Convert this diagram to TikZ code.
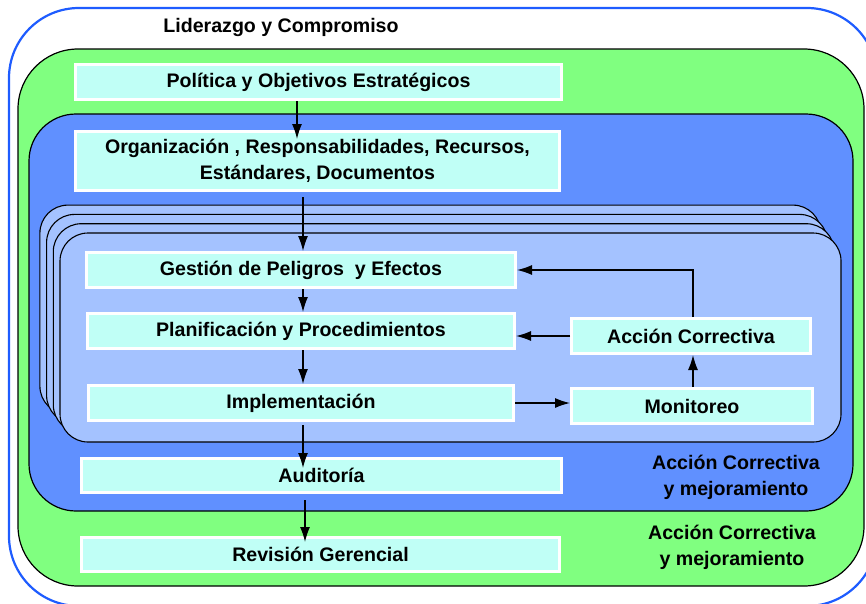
\documentclass[tikz,border=0pt]{standalone}
\usepackage{fontspec}
\setmainfont{Liberation Sans}
\usetikzlibrary{arrows.meta}
\definecolor{frameblue}{RGB}{30,92,255}
\definecolor{leafgreen}{RGB}{128,255,128}
\definecolor{midblue}{RGB}{96,144,255}
\definecolor{layerblue}{RGB}{164,194,255}
\definecolor{boxcyan}{RGB}{192,255,246}
\begin{document}
\begin{tikzpicture}[x=1pt,y=-1pt,
  txt/.style={font=\fontsize{19.6}{26}\selectfont\bfseries, align=center},
  cbox/.style={txt, fill=boxcyan, draw=white, line width=3pt, inner sep=0pt},
  arr/.style={line width=1.3pt, -{Latex[length=15pt,width=10pt]}},
  panel/.style={draw=black, line width=1.2pt},
  layer/.style={fill=layerblue, draw=black, line width=1.1pt, rounded corners=28pt}]
\useasboundingbox (0,0) rectangle (866,603);
\clip (0,0) rectangle (866,603);

% nested frames
\draw[frameblue, line width=2.2pt, fill=white, rounded corners=70pt] (9,8) rectangle (877,606);
\draw[panel, fill=leafgreen, rounded corners=60pt] (18,49) rectangle (864,586);
\draw[panel, fill=midblue, rounded corners=47pt] (29,114) rectangle (853,511);

% stacked cycle sheets
\foreach \k in {3,2,1,0}{
  \begin{scope}[shift={(-6.7*\k,-9.3*\k)}]
    \draw[layer] (60,233) rectangle (841,442);
  \end{scope}
}

% process boxes
\node[cbox, minimum width=486pt, minimum height=35pt] (pol) at (318.5,82) {Política y Objetivos Estratégicos};
\node[cbox, minimum width=484pt, minimum height=59pt] (org) at (317.5,161) {Organización , Responsabilidades, Recursos,\\Estándares, Documentos};
\node[cbox, minimum width=429pt, minimum height=35pt] (ges) at (301,270) {Gestión de Peligros\ \ y Efectos};
\node[cbox, minimum width=427pt, minimum height=35pt] (plan) at (301,331) {Planificación y Procedimientos};
\node[cbox, minimum width=425pt, minimum height=35pt] (impl) at (301,403) {Implementación};
\node[cbox, minimum width=239pt, minimum height=35pt] (acc) at (691,336) {Acción Correctiva};
\node[cbox, minimum width=241pt, minimum height=35pt] (mon) at (692,406) {Monitoreo};
\node[cbox, minimum width=480pt, minimum height=34pt] (aud) at (321.5,475.5) {Auditoría};
\node[cbox, minimum width=478pt, minimum height=34pt] (rev) at (320.5,554.5) {Revisión Gerencial};

% free labels
\node[txt, anchor=base] (lid) at (281,32) {Liderazgo y Compromiso};
\node[txt, inner sep=0pt] (lab1) at (736,477) {Acción Correctiva\\y mejoramiento};
\node[txt, inner sep=0pt] (lab2) at (732,547) {Acción Correctiva\\y mejoramiento};

% connector columns
\coordinate (cA) at (297,0);
\coordinate (cB) at (303,0);
\coordinate (cC) at (305,0);
\coordinate (cD) at (693,0);

% connectors
\draw[arr, shorten >=-9pt] (pol.south -| cA) -- (org.north -| cA);
\draw[arr, shorten <=5pt] (org.south -| cB) -- (ges.north -| cB);
\draw[arr] (ges.south -| cB) -- (plan.north -| cB);
\draw[arr] (plan.south -| cB) -- (impl.north -| cB);
\draw[arr, shorten <=3pt, shorten >=-11pt] (impl.south -| cB) -- (aud.north -| cB);
\draw[arr, shorten <=6pt, shorten >=-6pt] (aud.south -| cC) -- (rev.north -| cC);
\draw[arr] (impl.east) -- (impl.east -| mon.west);
\draw[arr] (mon.north -| cD) -- (acc.south -| cD);
\draw[arr] (acc.west) -- (acc.west -| plan.east);
\draw[arr] (acc.north -| cD) |- (ges.east);
\end{tikzpicture}
\end{document}
